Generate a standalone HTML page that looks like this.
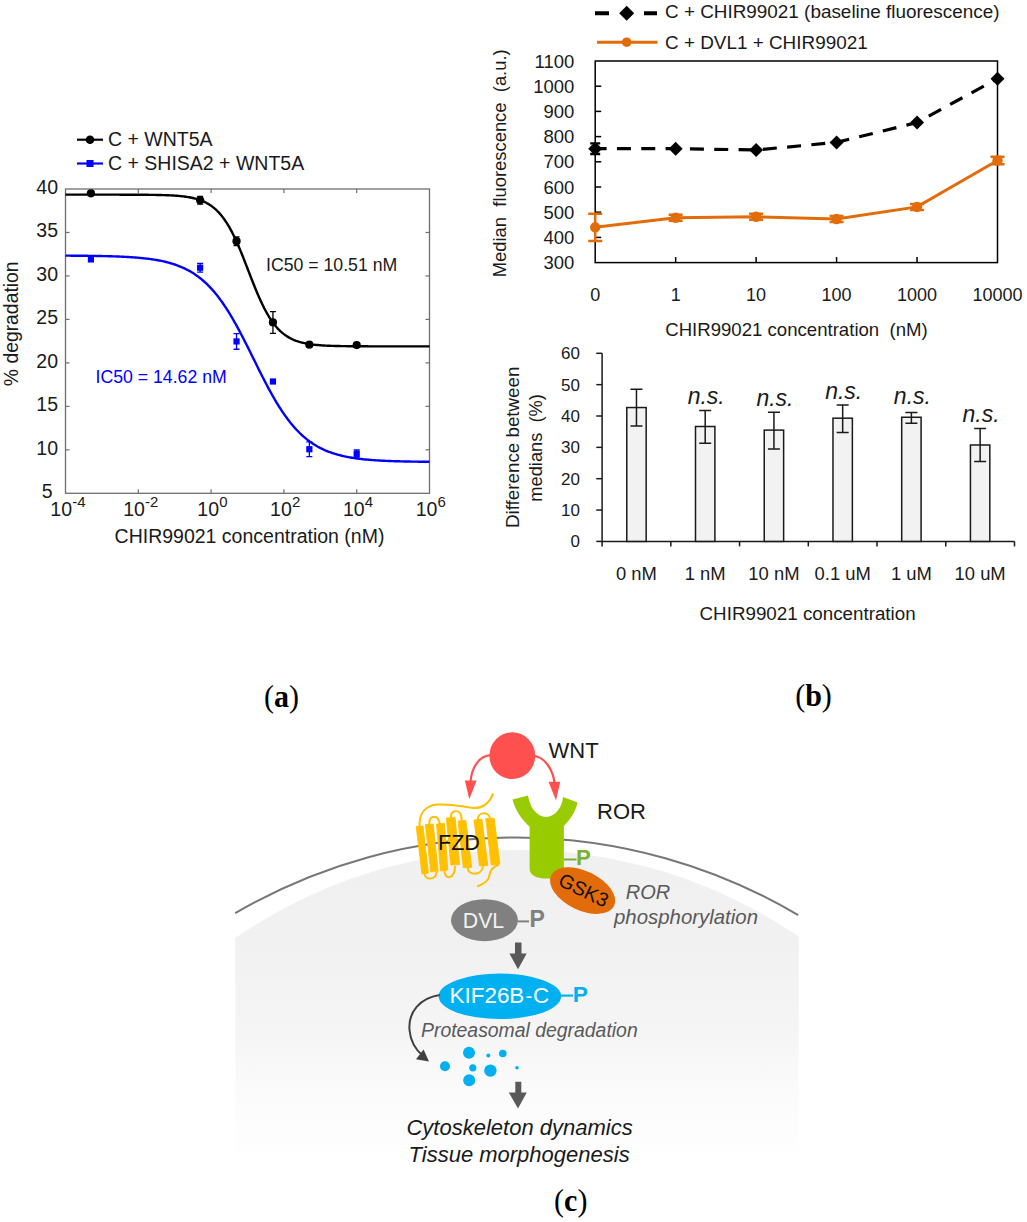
<!DOCTYPE html>
<html><head><meta charset="utf-8"><style>
html,body{margin:0;padding:0;background:#fff;}
svg{display:block;}
text{font-family:"Liberation Sans", sans-serif;white-space:pre;}
</style></head><body>
<svg width="1027" height="1222" viewBox="0 0 1027 1222">
<rect width="1027" height="1222" fill="#fff"/>
<rect x="65.5" y="189.0" width="364.0" height="304.3" fill="none" stroke="#6e6e6e" stroke-width="1.3"/>
<line x1="65.5" y1="449.83" x2="69.5" y2="449.83" stroke="#6e6e6e" stroke-width="1.2"/>
<line x1="429.5" y1="449.83" x2="425.5" y2="449.83" stroke="#6e6e6e" stroke-width="1.2"/>
<line x1="65.5" y1="406.36" x2="69.5" y2="406.36" stroke="#6e6e6e" stroke-width="1.2"/>
<line x1="429.5" y1="406.36" x2="425.5" y2="406.36" stroke="#6e6e6e" stroke-width="1.2"/>
<line x1="65.5" y1="362.89" x2="69.5" y2="362.89" stroke="#6e6e6e" stroke-width="1.2"/>
<line x1="429.5" y1="362.89" x2="425.5" y2="362.89" stroke="#6e6e6e" stroke-width="1.2"/>
<line x1="65.5" y1="319.41" x2="69.5" y2="319.41" stroke="#6e6e6e" stroke-width="1.2"/>
<line x1="429.5" y1="319.41" x2="425.5" y2="319.41" stroke="#6e6e6e" stroke-width="1.2"/>
<line x1="65.5" y1="275.94" x2="69.5" y2="275.94" stroke="#6e6e6e" stroke-width="1.2"/>
<line x1="429.5" y1="275.94" x2="425.5" y2="275.94" stroke="#6e6e6e" stroke-width="1.2"/>
<line x1="65.5" y1="232.47" x2="69.5" y2="232.47" stroke="#6e6e6e" stroke-width="1.2"/>
<line x1="429.5" y1="232.47" x2="425.5" y2="232.47" stroke="#6e6e6e" stroke-width="1.2"/>
<line x1="138.30" y1="189.0" x2="138.30" y2="193.0" stroke="#6e6e6e" stroke-width="1.2"/>
<line x1="138.30" y1="493.3" x2="138.30" y2="489.3" stroke="#6e6e6e" stroke-width="1.2"/>
<line x1="211.10" y1="189.0" x2="211.10" y2="193.0" stroke="#6e6e6e" stroke-width="1.2"/>
<line x1="211.10" y1="493.3" x2="211.10" y2="489.3" stroke="#6e6e6e" stroke-width="1.2"/>
<line x1="283.90" y1="189.0" x2="283.90" y2="193.0" stroke="#6e6e6e" stroke-width="1.2"/>
<line x1="283.90" y1="493.3" x2="283.90" y2="489.3" stroke="#6e6e6e" stroke-width="1.2"/>
<line x1="356.70" y1="189.0" x2="356.70" y2="193.0" stroke="#6e6e6e" stroke-width="1.2"/>
<line x1="356.70" y1="493.3" x2="356.70" y2="489.3" stroke="#6e6e6e" stroke-width="1.2"/>
<text x="47.20" y="498.10" font-size="19.5" text-anchor="middle" fill="#1a1a1a" >5</text>
<text x="47.20" y="454.63" font-size="19.5" text-anchor="middle" fill="#1a1a1a" >10</text>
<text x="47.20" y="411.16" font-size="19.5" text-anchor="middle" fill="#1a1a1a" >15</text>
<text x="47.20" y="367.69" font-size="19.5" text-anchor="middle" fill="#1a1a1a" >20</text>
<text x="47.20" y="324.21" font-size="19.5" text-anchor="middle" fill="#1a1a1a" >25</text>
<text x="47.20" y="280.74" font-size="19.5" text-anchor="middle" fill="#1a1a1a" >30</text>
<text x="47.20" y="237.27" font-size="19.5" text-anchor="middle" fill="#1a1a1a" >35</text>
<text x="47.20" y="193.80" font-size="19.5" text-anchor="middle" fill="#1a1a1a" >40</text>
<text x="50.36" y="516" font-size="19.5" fill="#1a1a1a">10</text>
<text x="72.26" y="506.8" font-size="15" fill="#1a1a1a">-4</text>
<text x="123.16" y="516" font-size="19.5" fill="#1a1a1a">10</text>
<text x="145.06" y="506.8" font-size="15" fill="#1a1a1a">-2</text>
<text x="197.29" y="516" font-size="19.5" fill="#1a1a1a">10</text>
<text x="219.19" y="506.8" font-size="15" fill="#1a1a1a">0</text>
<text x="270.09" y="516" font-size="19.5" fill="#1a1a1a">10</text>
<text x="291.99" y="506.8" font-size="15" fill="#1a1a1a">2</text>
<text x="342.89" y="516" font-size="19.5" fill="#1a1a1a">10</text>
<text x="364.79" y="506.8" font-size="15" fill="#1a1a1a">4</text>
<text x="415.69" y="516" font-size="19.5" fill="#1a1a1a">10</text>
<text x="437.59" y="506.8" font-size="15" fill="#1a1a1a">6</text>
<text x="249.50" y="542.60" font-size="19.5" text-anchor="middle" fill="#1a1a1a" >CHIR99021 concentration (nM)</text>
<text x="0" y="0" font-size="19.35" text-anchor="middle" fill="#1a1a1a" transform="translate(18.4,323.8) rotate(-90)">% degradation</text>
<line x1="77" y1="139.7" x2="103" y2="139.7" stroke="#000" stroke-width="2.2"/>
<circle cx="90" cy="139.7" r="4.3" fill="#000"/>
<text x="108.00" y="146.30" font-size="19.5" text-anchor="start" fill="#1a1a1a" >C + WNT5A</text>
<line x1="77" y1="163.5" x2="103" y2="163.5" stroke="#0000ff" stroke-width="2.2"/>
<rect x="86.5" y="160" width="7" height="7" fill="#0000ff"/>
<text x="108.00" y="170.10" font-size="19.5" text-anchor="start" fill="#1a1a1a" >C + SHISA2 + WNT5A</text>
<text x="266.00" y="270.60" font-size="17.7" text-anchor="start" fill="#1a1a1a" >IC50 = 10.51 nM</text>
<text x="95.50" y="382.50" font-size="17.7" text-anchor="start" fill="#0000ff" >IC50 = 14.62 nM</text>
<path d="M65.50,194.65 L66.71,194.65 L67.93,194.65 L69.14,194.65 L70.35,194.65 L71.57,194.65 L72.78,194.65 L73.99,194.65 L75.21,194.65 L76.42,194.65 L77.63,194.65 L78.85,194.65 L80.06,194.65 L81.27,194.65 L82.49,194.65 L83.70,194.65 L84.91,194.65 L86.13,194.65 L87.34,194.65 L88.55,194.65 L89.77,194.65 L90.98,194.65 L92.19,194.65 L93.41,194.66 L94.62,194.66 L95.83,194.66 L97.05,194.66 L98.26,194.66 L99.47,194.66 L100.69,194.66 L101.90,194.66 L103.11,194.66 L104.33,194.66 L105.54,194.66 L106.75,194.66 L107.97,194.66 L109.18,194.66 L110.39,194.66 L111.61,194.66 L112.82,194.67 L114.03,194.67 L115.25,194.67 L116.46,194.67 L117.67,194.67 L118.89,194.67 L120.10,194.68 L121.31,194.68 L122.53,194.68 L123.74,194.68 L124.95,194.68 L126.17,194.69 L127.38,194.69 L128.59,194.69 L129.81,194.70 L131.02,194.70 L132.23,194.71 L133.45,194.71 L134.66,194.72 L135.87,194.72 L137.09,194.73 L138.30,194.73 L139.51,194.74 L140.73,194.75 L141.94,194.76 L143.15,194.77 L144.37,194.78 L145.58,194.79 L146.79,194.80 L148.01,194.81 L149.22,194.83 L150.43,194.84 L151.65,194.86 L152.86,194.87 L154.07,194.89 L155.29,194.91 L156.50,194.94 L157.71,194.96 L158.93,194.99 L160.14,195.02 L161.35,195.05 L162.57,195.08 L163.78,195.12 L164.99,195.16 L166.21,195.21 L167.42,195.25 L168.63,195.31 L169.85,195.36 L171.06,195.42 L172.27,195.49 L173.49,195.56 L174.70,195.64 L175.91,195.72 L177.13,195.82 L178.34,195.92 L179.55,196.02 L180.77,196.14 L181.98,196.27 L183.19,196.41 L184.41,196.56 L185.62,196.72 L186.83,196.90 L188.05,197.09 L189.26,197.29 L190.47,197.52 L191.69,197.76 L192.90,198.02 L194.11,198.31 L195.33,198.62 L196.54,198.95 L197.75,199.31 L198.97,199.70 L200.18,200.12 L201.39,200.57 L202.61,201.06 L203.82,201.59 L205.03,202.16 L206.25,202.78 L207.46,203.44 L208.67,204.15 L209.89,204.91 L211.10,205.74 L212.31,206.62 L213.53,207.57 L214.74,208.58 L215.95,209.66 L217.17,210.82 L218.38,212.06 L219.59,213.38 L220.81,214.78 L222.02,216.27 L223.23,217.86 L224.45,219.53 L225.66,221.31 L226.87,223.18 L228.09,225.15 L229.30,227.22 L230.51,229.39 L231.73,231.66 L232.94,234.03 L234.15,236.49 L235.37,239.05 L236.58,241.69 L237.79,244.43 L239.01,247.24 L240.22,250.12 L241.43,253.07 L242.65,256.07 L243.86,259.13 L245.07,262.22 L246.29,265.34 L247.50,268.47 L248.71,271.62 L249.93,274.75 L251.14,277.88 L252.35,280.98 L253.57,284.05 L254.78,287.06 L255.99,290.03 L257.21,292.93 L258.42,295.77 L259.63,298.52 L260.85,301.20 L262.06,303.78 L263.27,306.27 L264.49,308.67 L265.70,310.97 L266.91,313.17 L268.13,315.27 L269.34,317.27 L270.55,319.17 L271.77,320.97 L272.98,322.67 L274.19,324.28 L275.41,325.80 L276.62,327.23 L277.83,328.58 L279.05,329.84 L280.26,331.02 L281.47,332.13 L282.69,333.16 L283.90,334.13 L285.11,335.03 L286.33,335.87 L287.54,336.65 L288.75,337.38 L289.97,338.05 L291.18,338.68 L292.39,339.26 L293.61,339.80 L294.82,340.30 L296.03,340.77 L297.25,341.20 L298.46,341.60 L299.67,341.97 L300.89,342.31 L302.10,342.62 L303.31,342.91 L304.53,343.18 L305.74,343.43 L306.95,343.66 L308.17,343.87 L309.38,344.07 L310.59,344.25 L311.81,344.41 L313.02,344.57 L314.23,344.71 L315.45,344.84 L316.66,344.96 L317.87,345.07 L319.09,345.17 L320.30,345.27 L321.51,345.35 L322.73,345.43 L323.94,345.51 L325.15,345.58 L326.37,345.64 L327.58,345.70 L328.79,345.75 L330.01,345.80 L331.22,345.84 L332.43,345.88 L333.65,345.92 L334.86,345.96 L336.07,345.99 L337.29,346.02 L338.50,346.05 L339.71,346.07 L340.93,346.10 L342.14,346.12 L343.35,346.14 L344.57,346.16 L345.78,346.17 L346.99,346.19 L348.21,346.20 L349.42,346.22 L350.63,346.23 L351.85,346.24 L353.06,346.25 L354.27,346.26 L355.49,346.27 L356.70,346.27 L357.91,346.28 L359.13,346.29 L360.34,346.29 L361.55,346.30 L362.77,346.31 L363.98,346.31 L365.19,346.32 L366.41,346.32 L367.62,346.32 L368.83,346.33 L370.05,346.33 L371.26,346.33 L372.47,346.34 L373.69,346.34 L374.90,346.34 L376.11,346.34 L377.33,346.34 L378.54,346.35 L379.75,346.35 L380.97,346.35 L382.18,346.35 L383.39,346.35 L384.61,346.35 L385.82,346.35 L387.03,346.35 L388.25,346.36 L389.46,346.36 L390.67,346.36 L391.89,346.36 L393.10,346.36 L394.31,346.36 L395.53,346.36 L396.74,346.36 L397.95,346.36 L399.17,346.36 L400.38,346.36 L401.59,346.36 L402.81,346.36 L404.02,346.36 L405.23,346.36 L406.45,346.36 L407.66,346.36 L408.87,346.36 L410.09,346.36 L411.30,346.36 L412.51,346.36 L413.73,346.36 L414.94,346.36 L416.15,346.36 L417.37,346.37 L418.58,346.37 L419.79,346.37 L421.01,346.37 L422.22,346.37 L423.43,346.37 L424.65,346.37 L425.86,346.37 L427.07,346.37 L428.29,346.37 L429.50,346.37" fill="none" stroke="#000" stroke-width="2.4"/>
<path d="M65.50,255.64 L66.71,255.65 L67.93,255.65 L69.14,255.66 L70.35,255.67 L71.57,255.68 L72.78,255.68 L73.99,255.69 L75.21,255.70 L76.42,255.71 L77.63,255.72 L78.85,255.73 L80.06,255.74 L81.27,255.75 L82.49,255.76 L83.70,255.78 L84.91,255.79 L86.13,255.80 L87.34,255.82 L88.55,255.83 L89.77,255.85 L90.98,255.86 L92.19,255.88 L93.41,255.90 L94.62,255.92 L95.83,255.94 L97.05,255.96 L98.26,255.98 L99.47,256.00 L100.69,256.03 L101.90,256.05 L103.11,256.08 L104.33,256.10 L105.54,256.13 L106.75,256.16 L107.97,256.19 L109.18,256.23 L110.39,256.26 L111.61,256.30 L112.82,256.34 L114.03,256.38 L115.25,256.42 L116.46,256.46 L117.67,256.51 L118.89,256.56 L120.10,256.61 L121.31,256.66 L122.53,256.72 L123.74,256.78 L124.95,256.84 L126.17,256.90 L127.38,256.97 L128.59,257.04 L129.81,257.11 L131.02,257.19 L132.23,257.27 L133.45,257.36 L134.66,257.45 L135.87,257.54 L137.09,257.64 L138.30,257.74 L139.51,257.85 L140.73,257.96 L141.94,258.08 L143.15,258.20 L144.37,258.33 L145.58,258.47 L146.79,258.61 L148.01,258.76 L149.22,258.91 L150.43,259.07 L151.65,259.24 L152.86,259.42 L154.07,259.61 L155.29,259.81 L156.50,260.01 L157.71,260.22 L158.93,260.45 L160.14,260.68 L161.35,260.93 L162.57,261.18 L163.78,261.45 L164.99,261.73 L166.21,262.03 L167.42,262.34 L168.63,262.66 L169.85,262.99 L171.06,263.34 L172.27,263.71 L173.49,264.09 L174.70,264.49 L175.91,264.91 L177.13,265.35 L178.34,265.80 L179.55,266.28 L180.77,266.77 L181.98,267.29 L183.19,267.83 L184.41,268.39 L185.62,268.98 L186.83,269.59 L188.05,270.23 L189.26,270.89 L190.47,271.58 L191.69,272.30 L192.90,273.05 L194.11,273.83 L195.33,274.64 L196.54,275.48 L197.75,276.36 L198.97,277.27 L200.18,278.21 L201.39,279.19 L202.61,280.21 L203.82,281.26 L205.03,282.35 L206.25,283.48 L207.46,284.66 L208.67,285.87 L209.89,287.12 L211.10,288.42 L212.31,289.75 L213.53,291.13 L214.74,292.56 L215.95,294.03 L217.17,295.54 L218.38,297.10 L219.59,298.70 L220.81,300.35 L222.02,302.04 L223.23,303.78 L224.45,305.56 L225.66,307.39 L226.87,309.26 L228.09,311.17 L229.30,313.13 L230.51,315.13 L231.73,317.16 L232.94,319.24 L234.15,321.36 L235.37,323.51 L236.58,325.70 L237.79,327.92 L239.01,330.17 L240.22,332.45 L241.43,334.76 L242.65,337.10 L243.86,339.46 L245.07,341.84 L246.29,344.24 L247.50,346.66 L248.71,349.08 L249.93,351.52 L251.14,353.97 L252.35,356.43 L253.57,358.88 L254.78,361.34 L255.99,363.79 L257.21,366.24 L258.42,368.68 L259.63,371.11 L260.85,373.52 L262.06,375.92 L263.27,378.30 L264.49,380.65 L265.70,382.99 L266.91,385.30 L268.13,387.58 L269.34,389.83 L270.55,392.04 L271.77,394.23 L272.98,396.38 L274.19,398.49 L275.41,400.56 L276.62,402.59 L277.83,404.59 L279.05,406.54 L280.26,408.45 L281.47,410.31 L282.69,412.14 L283.90,413.91 L285.11,415.65 L286.33,417.33 L287.54,418.98 L288.75,420.58 L289.97,422.13 L291.18,423.64 L292.39,425.10 L293.61,426.52 L294.82,427.90 L296.03,429.23 L297.25,430.52 L298.46,431.77 L299.67,432.98 L300.89,434.15 L302.10,435.27 L303.31,436.36 L304.53,437.41 L305.74,438.42 L306.95,439.40 L308.17,440.34 L309.38,441.24 L310.59,442.12 L311.81,442.95 L313.02,443.76 L314.23,444.54 L315.45,445.28 L316.66,446.00 L317.87,446.69 L319.09,447.35 L320.30,447.98 L321.51,448.59 L322.73,449.18 L323.94,449.74 L325.15,450.28 L326.37,450.79 L327.58,451.28 L328.79,451.76 L330.01,452.21 L331.22,452.65 L332.43,453.06 L333.65,453.46 L334.86,453.84 L336.07,454.21 L337.29,454.56 L338.50,454.89 L339.71,455.21 L340.93,455.51 L342.14,455.81 L343.35,456.09 L344.57,456.35 L345.78,456.61 L346.99,456.85 L348.21,457.09 L349.42,457.31 L350.63,457.52 L351.85,457.73 L353.06,457.92 L354.27,458.11 L355.49,458.29 L356.70,458.46 L357.91,458.62 L359.13,458.77 L360.34,458.92 L361.55,459.06 L362.77,459.20 L363.98,459.32 L365.19,459.45 L366.41,459.56 L367.62,459.68 L368.83,459.78 L370.05,459.89 L371.26,459.98 L372.47,460.08 L373.69,460.16 L374.90,460.25 L376.11,460.33 L377.33,460.41 L378.54,460.48 L379.75,460.55 L380.97,460.62 L382.18,460.68 L383.39,460.74 L384.61,460.80 L385.82,460.86 L387.03,460.91 L388.25,460.96 L389.46,461.01 L390.67,461.05 L391.89,461.10 L393.10,461.14 L394.31,461.18 L395.53,461.22 L396.74,461.25 L397.95,461.29 L399.17,461.32 L400.38,461.35 L401.59,461.38 L402.81,461.41 L404.02,461.44 L405.23,461.46 L406.45,461.49 L407.66,461.51 L408.87,461.54 L410.09,461.56 L411.30,461.58 L412.51,461.60 L413.73,461.62 L414.94,461.63 L416.15,461.65 L417.37,461.67 L418.58,461.68 L419.79,461.70 L421.01,461.71 L422.22,461.72 L423.43,461.74 L424.65,461.75 L425.86,461.76 L427.07,461.77 L428.29,461.78 L429.50,461.79" fill="none" stroke="#0000ff" stroke-width="2.4"/>
<path d="M90.94,191.17 V195.52 M87.94,191.17 H93.94 M87.94,195.52 H93.94" stroke="#000" stroke-width="1.3" fill="none"/>
<circle cx="90.94" cy="193.35" r="4.1" fill="#000"/>
<path d="M200.14,196.39 V204.21 M197.14,196.39 H203.14 M197.14,204.21 H203.14" stroke="#000" stroke-width="1.3" fill="none"/>
<circle cx="200.14" cy="200.30" r="4.1" fill="#000"/>
<path d="M236.54,236.82 V245.51 M233.54,236.82 H239.54 M233.54,245.51 H239.54" stroke="#000" stroke-width="1.3" fill="none"/>
<circle cx="236.54" cy="241.17" r="4.1" fill="#000"/>
<path d="M272.94,311.59 V333.33 M269.94,311.59 H275.94 M269.94,333.33 H275.94" stroke="#000" stroke-width="1.3" fill="none"/>
<circle cx="272.94" cy="322.46" r="4.1" fill="#000"/>
<circle cx="309.34" cy="344.63" r="4.1" fill="#000"/>
<circle cx="356.70" cy="345.06" r="4.1" fill="#000"/>
<rect x="87.84" y="256.32" width="6.2" height="6.2" fill="#0000ff"/>
<path d="M200.14,263.34 V272.03 M197.14,263.34 H203.14 M197.14,272.03 H203.14" stroke="#0000ff" stroke-width="1.3" fill="none"/>
<rect x="197.04" y="264.58" width="6.2" height="6.2" fill="#0000ff"/>
<path d="M236.54,333.59 V349.24 M233.54,333.59 H239.54 M233.54,349.24 H239.54" stroke="#0000ff" stroke-width="1.3" fill="none"/>
<rect x="233.44" y="338.31" width="6.2" height="6.2" fill="#0000ff"/>
<rect x="269.84" y="378.39" width="6.2" height="6.2" fill="#0000ff"/>
<path d="M309.34,441.83 V456.61 M306.34,441.83 H312.34 M306.34,456.61 H312.34" stroke="#0000ff" stroke-width="1.3" fill="none"/>
<rect x="306.24" y="446.12" width="6.2" height="6.2" fill="#0000ff"/>
<path d="M356.70,450.00 V457.83 M353.70,450.00 H359.70 M353.70,457.83 H359.70" stroke="#0000ff" stroke-width="1.3" fill="none"/>
<rect x="353.60" y="450.81" width="6.2" height="6.2" fill="#0000ff"/>
<rect x="595.2" y="61.0" width="402.29999999999995" height="201.60000000000002" fill="none" stroke="#000" stroke-width="1.5"/>
<line x1="595.2" y1="237.40" x2="601.2" y2="237.40" stroke="#000" stroke-width="1.5"/>
<line x1="595.2" y1="212.20" x2="601.2" y2="212.20" stroke="#000" stroke-width="1.5"/>
<line x1="595.2" y1="187.00" x2="601.2" y2="187.00" stroke="#000" stroke-width="1.5"/>
<line x1="595.2" y1="161.80" x2="601.2" y2="161.80" stroke="#000" stroke-width="1.5"/>
<line x1="595.2" y1="136.60" x2="601.2" y2="136.60" stroke="#000" stroke-width="1.5"/>
<line x1="595.2" y1="111.40" x2="601.2" y2="111.40" stroke="#000" stroke-width="1.5"/>
<line x1="595.2" y1="86.20" x2="601.2" y2="86.20" stroke="#000" stroke-width="1.5"/>
<line x1="675.66" y1="262.6" x2="675.66" y2="257.1" stroke="#000" stroke-width="1.5"/>
<line x1="756.12" y1="262.6" x2="756.12" y2="257.1" stroke="#000" stroke-width="1.5"/>
<line x1="836.58" y1="262.6" x2="836.58" y2="257.1" stroke="#000" stroke-width="1.5"/>
<line x1="917.04" y1="262.6" x2="917.04" y2="257.1" stroke="#000" stroke-width="1.5"/>
<text x="574.30" y="269.20" font-size="18.5" text-anchor="end" fill="#1a1a1a" >300</text>
<text x="574.30" y="244.00" font-size="18.5" text-anchor="end" fill="#1a1a1a" >400</text>
<text x="574.30" y="218.80" font-size="18.5" text-anchor="end" fill="#1a1a1a" >500</text>
<text x="574.30" y="193.60" font-size="18.5" text-anchor="end" fill="#1a1a1a" >600</text>
<text x="574.30" y="168.40" font-size="18.5" text-anchor="end" fill="#1a1a1a" >700</text>
<text x="574.30" y="143.20" font-size="18.5" text-anchor="end" fill="#1a1a1a" >800</text>
<text x="574.30" y="118.00" font-size="18.5" text-anchor="end" fill="#1a1a1a" >900</text>
<text x="574.30" y="92.80" font-size="18.5" text-anchor="end" fill="#1a1a1a" >1000</text>
<text x="574.30" y="67.60" font-size="18.5" text-anchor="end" fill="#1a1a1a" >1100</text>
<text x="595.20" y="301.30" font-size="18" text-anchor="middle" fill="#1a1a1a" >0</text>
<text x="675.66" y="301.30" font-size="18" text-anchor="middle" fill="#1a1a1a" >1</text>
<text x="756.12" y="301.30" font-size="18" text-anchor="middle" fill="#1a1a1a" >10</text>
<text x="836.58" y="301.30" font-size="18" text-anchor="middle" fill="#1a1a1a" >100</text>
<text x="917.04" y="301.30" font-size="18" text-anchor="middle" fill="#1a1a1a" >1000</text>
<text x="997.50" y="301.30" font-size="18" text-anchor="middle" fill="#1a1a1a" >10000</text>
<text x="796.50" y="335.50" font-size="18.6" text-anchor="middle" fill="#1a1a1a" >CHIR99021 concentration  (nM)</text>
<text x="0" y="0" font-size="18.4" text-anchor="middle" fill="#1a1a1a" transform="translate(506,163.3) rotate(-90)">Median  fluorescence  (a.u.)</text>
<path d="M595.20,148.70 L675.66,148.70 L756.12,149.96 L836.58,142.40 L917.04,122.49 L997.50,78.64" fill="none" stroke="#000" stroke-width="3.2" stroke-dasharray="14 10.33" stroke-dashoffset="2.6"/>
<path d="M595.20,227.32 L675.66,217.74 L756.12,216.74 L836.58,219.00 L917.04,206.91 L997.50,160.54" fill="none" stroke="#e36c0a" stroke-width="3"/>
<path d="M595.2,143.39600000000002 V153.99600000000004 M590.2,143.39600000000002 H600.2 M590.2,153.99600000000004 H600.2" stroke="#000" stroke-width="2.3"/>
<path d="M595.20,141.70 L602.20,148.70 L595.20,155.70 L588.20,148.70Z" fill="#000"/>
<path d="M675.66,141.70 L682.66,148.70 L675.66,155.70 L668.66,148.70Z" fill="#000"/>
<path d="M756.12,142.96 L763.12,149.96 L756.12,156.96 L749.12,149.96Z" fill="#000"/>
<path d="M836.58,135.40 L843.58,142.40 L836.58,149.40 L829.58,142.40Z" fill="#000"/>
<path d="M917.04,115.49 L924.04,122.49 L917.04,129.49 L910.04,122.49Z" fill="#000"/>
<path d="M997.50,71.64 L1004.50,78.64 L997.50,85.64 L990.50,78.64Z" fill="#000"/>
<path d="M595.20,213.71 V240.93 M588.20,213.71 H602.20 M588.20,240.93 H602.20" stroke="#e36c0a" stroke-width="2.5"/>
<circle cx="595.20" cy="227.32" r="5.2" fill="#e36c0a"/>
<path d="M675.66,214.72 V220.77 M668.66,214.72 H682.66 M668.66,220.77 H682.66" stroke="#e36c0a" stroke-width="2.5"/>
<circle cx="675.66" cy="217.74" r="5.2" fill="#e36c0a"/>
<path d="M756.12,213.71 V219.76 M749.12,213.71 H763.12 M749.12,219.76 H763.12" stroke="#e36c0a" stroke-width="2.5"/>
<circle cx="756.12" cy="216.74" r="5.2" fill="#e36c0a"/>
<path d="M836.58,215.98 V222.03 M829.58,215.98 H843.58 M829.58,222.03 H843.58" stroke="#e36c0a" stroke-width="2.5"/>
<circle cx="836.58" cy="219.00" r="5.2" fill="#e36c0a"/>
<path d="M917.04,203.88 V209.93 M910.04,203.88 H924.04 M910.04,209.93 H924.04" stroke="#e36c0a" stroke-width="2.5"/>
<circle cx="917.04" cy="206.91" r="5.2" fill="#e36c0a"/>
<path d="M997.50,156.76 V164.32 M990.50,156.76 H1004.50 M990.50,164.32 H1004.50" stroke="#e36c0a" stroke-width="2.5"/>
<circle cx="997.50" cy="160.54" r="5.2" fill="#e36c0a"/>
<path d="M595,13.3 H609 M644,13.3 H657" stroke="#000" stroke-width="4"/>
<path d="M626.7,5.8 L634.2,13.3 L626.7,20.8 L619.2,13.3Z" fill="#000"/>
<text x="665.00" y="18.00" font-size="18.9" text-anchor="start" fill="#1a1a1a" >C + CHIR99021 (baseline fluorescence)</text>
<line x1="597" y1="42.2" x2="657.5" y2="42.2" stroke="#e36c0a" stroke-width="3"/>
<circle cx="626.7" cy="42.2" r="4.8" fill="#e36c0a"/>
<text x="665.00" y="48.80" font-size="18.9" text-anchor="start" fill="#1a1a1a" >C + DVL1 + CHIR99021</text>
<path d="M602.1,353.3 V541.4 H1014.5" fill="none" stroke="#1a1a1a" stroke-width="1.5"/>
<line x1="596.3000000000001" y1="541.40" x2="602.1" y2="541.40" stroke="#1a1a1a" stroke-width="1.5"/>
<text x="580.00" y="547.40" font-size="17" text-anchor="end" fill="#1a1a1a" >0</text>
<line x1="596.3000000000001" y1="510.05" x2="602.1" y2="510.05" stroke="#1a1a1a" stroke-width="1.5"/>
<text x="580.00" y="516.05" font-size="17" text-anchor="end" fill="#1a1a1a" >10</text>
<line x1="596.3000000000001" y1="478.70" x2="602.1" y2="478.70" stroke="#1a1a1a" stroke-width="1.5"/>
<text x="580.00" y="484.70" font-size="17" text-anchor="end" fill="#1a1a1a" >20</text>
<line x1="596.3000000000001" y1="447.35" x2="602.1" y2="447.35" stroke="#1a1a1a" stroke-width="1.5"/>
<text x="580.00" y="453.35" font-size="17" text-anchor="end" fill="#1a1a1a" >30</text>
<line x1="596.3000000000001" y1="416.00" x2="602.1" y2="416.00" stroke="#1a1a1a" stroke-width="1.5"/>
<text x="580.00" y="422.00" font-size="17" text-anchor="end" fill="#1a1a1a" >40</text>
<line x1="596.3000000000001" y1="384.65" x2="602.1" y2="384.65" stroke="#1a1a1a" stroke-width="1.5"/>
<text x="580.00" y="390.65" font-size="17" text-anchor="end" fill="#1a1a1a" >50</text>
<line x1="596.3000000000001" y1="353.30" x2="602.1" y2="353.30" stroke="#1a1a1a" stroke-width="1.5"/>
<text x="580.00" y="359.30" font-size="17" text-anchor="end" fill="#1a1a1a" >60</text>
<line x1="602.10" y1="541.4" x2="602.10" y2="546.4" stroke="#1a1a1a" stroke-width="1.5"/>
<line x1="670.83" y1="541.4" x2="670.83" y2="546.4" stroke="#1a1a1a" stroke-width="1.5"/>
<line x1="739.57" y1="541.4" x2="739.57" y2="546.4" stroke="#1a1a1a" stroke-width="1.5"/>
<line x1="808.30" y1="541.4" x2="808.30" y2="546.4" stroke="#1a1a1a" stroke-width="1.5"/>
<line x1="877.03" y1="541.4" x2="877.03" y2="546.4" stroke="#1a1a1a" stroke-width="1.5"/>
<line x1="945.77" y1="541.4" x2="945.77" y2="546.4" stroke="#1a1a1a" stroke-width="1.5"/>
<line x1="1014.50" y1="541.4" x2="1014.50" y2="546.4" stroke="#1a1a1a" stroke-width="1.5"/>
<rect x="626.77" y="407.54" width="19.4" height="133.86" fill="#f2f2f2" stroke="#1a1a1a" stroke-width="1.5"/>
<path d="M636.47,389.35 V426.03 M630.47,389.35 H642.47 M630.47,426.03 H642.47" stroke="#1a1a1a" stroke-width="1.5"/>
<text x="636.47" y="580.00" font-size="18.4" text-anchor="middle" fill="#1a1a1a" >0 nM</text>
<rect x="695.50" y="426.50" width="19.4" height="114.90" fill="#f2f2f2" stroke="#1a1a1a" stroke-width="1.5"/>
<path d="M705.20,410.51 V443.27 M699.20,410.51 H711.20 M699.20,443.27 H711.20" stroke="#1a1a1a" stroke-width="1.5"/>
<text x="706.20" y="403.80" font-size="23" text-anchor="middle" fill="#1a1a1a" font-style="italic" >n.s.</text>
<text x="705.20" y="580.00" font-size="18.4" text-anchor="middle" fill="#1a1a1a" >1 nM</text>
<rect x="764.23" y="430.11" width="19.4" height="111.29" fill="#f2f2f2" stroke="#1a1a1a" stroke-width="1.5"/>
<path d="M773.93,412.24 V448.92 M767.93,412.24 H779.93 M767.93,448.92 H779.93" stroke="#1a1a1a" stroke-width="1.5"/>
<text x="774.93" y="405.80" font-size="23" text-anchor="middle" fill="#1a1a1a" font-style="italic" >n.s.</text>
<text x="773.93" y="580.00" font-size="18.4" text-anchor="middle" fill="#1a1a1a" >10 nM</text>
<rect x="832.97" y="418.19" width="19.4" height="123.21" fill="#f2f2f2" stroke="#1a1a1a" stroke-width="1.5"/>
<path d="M842.67,405.03 V432.62 M836.67,405.03 H848.67 M836.67,432.62 H848.67" stroke="#1a1a1a" stroke-width="1.5"/>
<text x="843.67" y="398.60" font-size="23" text-anchor="middle" fill="#1a1a1a" font-style="italic" >n.s.</text>
<text x="842.67" y="580.00" font-size="18.4" text-anchor="middle" fill="#1a1a1a" >0.1 uM</text>
<rect x="901.70" y="417.25" width="19.4" height="124.15" fill="#f2f2f2" stroke="#1a1a1a" stroke-width="1.5"/>
<path d="M911.40,412.55 V423.21 M905.40,412.55 H917.40 M905.40,423.21 H917.40" stroke="#1a1a1a" stroke-width="1.5"/>
<text x="912.40" y="403.80" font-size="23" text-anchor="middle" fill="#1a1a1a" font-style="italic" >n.s.</text>
<text x="911.40" y="580.00" font-size="18.4" text-anchor="middle" fill="#1a1a1a" >1 uM</text>
<rect x="970.43" y="445.00" width="19.4" height="96.40" fill="#f2f2f2" stroke="#1a1a1a" stroke-width="1.5"/>
<path d="M980.13,428.38 V461.61 M974.13,428.38 H986.13 M974.13,461.61 H986.13" stroke="#1a1a1a" stroke-width="1.5"/>
<text x="981.13" y="421.90" font-size="23" text-anchor="middle" fill="#1a1a1a" font-style="italic" >n.s.</text>
<text x="980.13" y="580.00" font-size="18.4" text-anchor="middle" fill="#1a1a1a" >10 uM</text>
<text x="807.60" y="619.60" font-size="18.8" text-anchor="middle" fill="#1a1a1a" >CHIR99021 concentration</text>
<text x="0" y="0" font-size="18.8" text-anchor="middle" fill="#1a1a1a" transform="translate(519,447.3) rotate(-90)">Difference between</text>
<text x="0" y="0" font-size="18.3" text-anchor="middle" fill="#1a1a1a" transform="translate(541.6,447.9) rotate(-90)">medians  (%)</text>
<text x="281.5" y="706.3" style='font-family:"Liberation Serif", serif' font-size="30" text-anchor="middle" fill="#000" transform="translate(0,699.3) scale(1,1.04) translate(0,-699.3)">(<tspan font-weight="bold">a</tspan>)</text>
<text x="813.5" y="705.8" style='font-family:"Liberation Serif", serif' font-size="30" text-anchor="middle" fill="#000" transform="translate(0,698.8) scale(1,1.04) translate(0,-698.8)">(<tspan font-weight="bold">b</tspan>)</text>
<text x="570.8" y="1210.8" style='font-family:"Liberation Serif", serif' font-size="30" text-anchor="middle" fill="#000" transform="translate(0,1203.8) scale(1,1.04) translate(0,-1203.8)">(<tspan font-weight="bold">c</tspan>)</text>
<defs>
<linearGradient id="cg" x1="0" y1="840" x2="0" y2="1154" gradientUnits="userSpaceOnUse">
<stop offset="0" stop-color="#f0f0f0"/><stop offset="0.32" stop-color="#f1f1f1"/><stop offset="0.62" stop-color="#f5f5f5"/><stop offset="0.74" stop-color="#f9f9f9"/><stop offset="0.86" stop-color="#fcfcfc"/><stop offset="1" stop-color="#fefefe"/>
</linearGradient>
<clipPath id="cellclip"><rect x="235.2" y="800" width="563.6" height="354"/></clipPath>
</defs>
<g clip-path="url(#cellclip)"><circle cx="518.09" cy="1347.54" r="497.62" fill="url(#cg)"/></g>
<path d="M235.2,913.2 A554.87,554.87 0 0 1 798.2,915.2" fill="none" stroke="#777" stroke-width="2"/>
<ellipse cx="512.3" cy="755.7" rx="22.9" ry="23.4" fill="#ff5050"/>
<path d="M491,755.2 C479,755.5 471.5,768 470.5,782" fill="none" stroke="#ff5050" stroke-width="2.2"/>
<path d="M464.9,780.5 L476.6,780.5 L469.3,799.2Z" fill="#ff5050"/>
<path d="M534,756 C545,757 553,770 554.6,783" fill="none" stroke="#ff5050" stroke-width="2.2"/>
<path d="M548.5,781.7 L560.2,781.7 L556,800.4Z" fill="#ff5050"/>
<text x="548.60" y="757.60" font-size="22" text-anchor="start" fill="#1a1a1a" >WNT</text>
<text x="597.00" y="818.70" font-size="22" text-anchor="start" fill="#1a1a1a" >ROR</text>
<path d="M512.5,799.5 L528,795.6 C530,808 537,816.9 546,816.9 C555,816.9 562,808 563.1,797.1 L577.6,802.6 C575,813 570,820 563.9,826 L563.9,868 C563.9,876 556,878.5 546.7,878.5 C537,878.5 529.6,876 529.6,868 L529.6,826.7 C522,820 515,810 512.5,799.5Z" fill="#99cc00"/>
<line x1="563.9" y1="859.5" x2="576.5" y2="859.5" stroke="#7ab032" stroke-width="2"/>
<text x="576" y="865.3" font-size="22.2" font-weight="bold" fill="#7db030">P</text>
<ellipse cx="582.6" cy="890.6" rx="35" ry="19.5" fill="#e36c0a" transform="rotate(26 582.6 890.6)"/>
<text x="0" y="0" font-size="19.8" text-anchor="middle" fill="#111" transform="translate(580.6,896.2) rotate(26)">GSK3</text>
<text x="625.7" y="899.3" font-size="20" font-style="italic" fill="#595959">ROR</text>
<text x="614" y="923.9" font-size="20.4" font-style="italic" fill="#595959">phosphorylation</text>
<path d="M419.6,826 C419,815 424,806 437,804.6 C448,803.5 462,806.5 473,808 C482,809 490,803 493.1,793.4" fill="none" stroke="#ffc000" stroke-width="2"/>
<path d="M429.5,825 C428,816 436,815 438,819 L440,824" fill="none" stroke="#ffc000" stroke-width="2"/>
<path d="M451,818 C450,810 459,809 461,815 L462,821" fill="none" stroke="#ffc000" stroke-width="2"/>
<path d="M478,820 C477,812 488,811 490,818" fill="none" stroke="#ffc000" stroke-width="2"/>
<path d="M424.5,873.5 C425,880.5 436,880.5 436.5,872" fill="none" stroke="#ffc000" stroke-width="2"/>
<path d="M444.5,870.5 C444,880 455,880 455,866" fill="none" stroke="#ffc000" stroke-width="2"/>
<path d="M467.5,867.5 C468,876 482,876 483,866" fill="none" stroke="#ffc000" stroke-width="2"/>
<path d="M499,864.5 C494,866.5 490,870 489.5,875 C489,880 484,884 477.2,886.5" fill="none" stroke="#ffc000" stroke-width="2"/>
<path d="M416.2,826.5 L423.0,826.0 L428.3,873.0 L422,873.9Z" fill="#ffc000" stroke="#ffc000" stroke-width="0.9" stroke-linejoin="round"/>
<path d="M425.4,824.5 L433.2,824.0 L438.1,871.3 L430.8,871.8Z" fill="#ffc000" stroke="#ffc000" stroke-width="0.9" stroke-linejoin="round"/>
<path d="M436.6,824.0 L444.4,823.5 L447.8,870.0 L440.5,871.0Z" fill="#ffc000" stroke="#ffc000" stroke-width="0.9" stroke-linejoin="round"/>
<path d="M446.4,818.0 L455.1,817.5 L459.5,864.5 L450.8,865.0Z" fill="#ffc000" stroke="#ffc000" stroke-width="0.9" stroke-linejoin="round"/>
<path d="M458.1,821.0 L465.9,820.5 L471.7,867.3 L463.4,867.8Z" fill="#ffc000" stroke="#ffc000" stroke-width="0.9" stroke-linejoin="round"/>
<path d="M474.1,820.0 L481.9,819.2 L487.8,865.5 L479.5,866.0Z" fill="#ffc000" stroke="#ffc000" stroke-width="0.9" stroke-linejoin="round"/>
<path d="M485.8,818.7 L494.1,818.2 L499.9,864.0 L491.2,865.0Z" fill="#ffc000" stroke="#ffc000" stroke-width="0.9" stroke-linejoin="round"/>
<text x="438" y="850" font-size="21.5" fill="#111">FZD</text>
<ellipse cx="484.5" cy="920.2" rx="33.5" ry="21" fill="#808080"/>
<text x="483.5" y="927.9" font-size="21.3" text-anchor="middle" fill="#f2f2f2">DVL</text>
<line x1="518" y1="921.4" x2="529" y2="921.4" stroke="#808080" stroke-width="2"/>
<text x="529.4" y="927" font-size="23" font-weight="bold" fill="#808080">P</text>
<path d="M515,942.6 H521.5 V953.6 H526.7 L518,969.3 L509.4,953.6 H515Z" fill="#595959"/>
<ellipse cx="499.9" cy="996.3" rx="61.3" ry="22.8" fill="#00b0f0"/>
<text x="449.6" y="1003.4" font-size="22.4" fill="#fff">KIF26B<tspan dx="1.2" font-size="20">-</tspan><tspan dx="0.9">C</tspan></text>
<line x1="561" y1="995.6" x2="573" y2="995.6" stroke="#00b0f0" stroke-width="2.2"/>
<text x="572.8" y="1001.6" font-size="22.8" font-weight="bold" fill="#00b0f0">P</text>
<path d="M439.6,995 C420,998 408,1012 409.5,1030 C410.5,1042 416,1050 423,1056" fill="none" stroke="#404040" stroke-width="2"/>
<path d="M416,1059.3 L429,1061.6 L423.6,1049.6Z" fill="#404040"/>
<text x="421" y="1036.8" font-size="19.4" font-style="italic" fill="#595959">Proteasomal degradation</text>
<circle cx="469" cy="1052.8" r="6" fill="#00b0f0"/>
<circle cx="488.3" cy="1055.4" r="2" fill="#00b0f0"/>
<circle cx="502.8" cy="1053.5" r="3.8" fill="#00b0f0"/>
<circle cx="445" cy="1066.3" r="5" fill="#00b0f0"/>
<circle cx="472.8" cy="1067.8" r="3.6" fill="#00b0f0"/>
<circle cx="490.4" cy="1070.6" r="6.2" fill="#00b0f0"/>
<circle cx="517" cy="1067.8" r="1.8" fill="#00b0f0"/>
<circle cx="469.2" cy="1080.3" r="6" fill="#00b0f0"/>
<path d="M515.3,1081.8 H521.3 V1092.5 H526.8 L518,1108.5 L508.8,1092.5 H515.3Z" fill="#595959"/>
<text x="519.6" y="1135.4" font-size="22" font-style="italic" text-anchor="middle" fill="#1a1a1a">Cytoskeleton dynamics</text>
<text x="519.1" y="1162" font-size="22" font-style="italic" text-anchor="middle" fill="#1a1a1a">Tissue morphogenesis</text>
</svg></body></html>
